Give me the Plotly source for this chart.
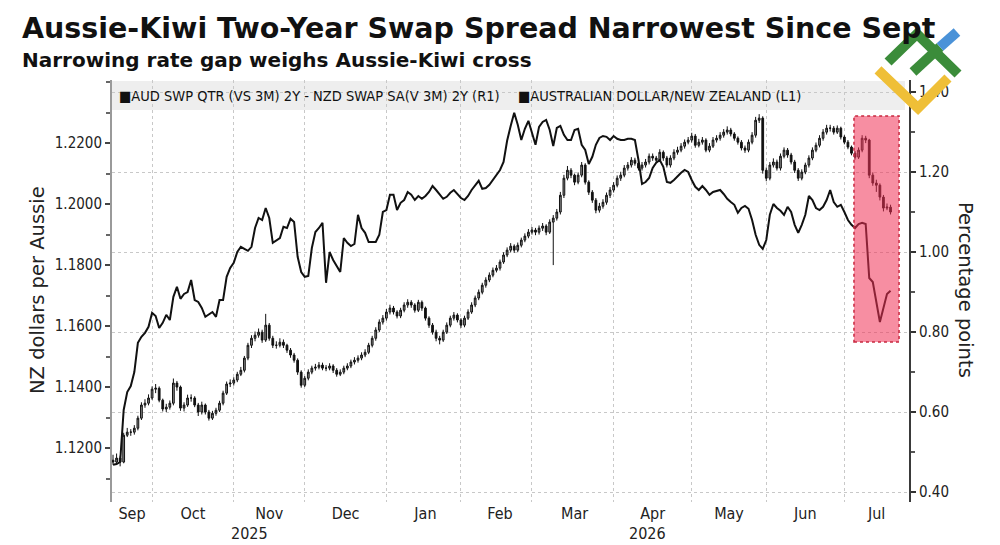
import numpy as np
import pandas as pd
import plotly.graph_objects as go

# ---------------- data ----------------
first_open = 1.1160
aud_close = [
    1.1154,1.1167,1.1154,1.1242,1.1252,1.1252,1.1265,1.1298,1.1341,1.1347,
    1.1364,1.1393,1.1396,1.1357,1.1328,1.1334,1.1347,1.1413,1.1400,1.1331,
    1.1341,1.1364,1.1364,1.1341,1.1318,1.1341,1.1318,1.1298,1.1314,1.1324,
    1.1347,1.1380,1.1410,1.1413,1.1423,1.1442,1.1455,1.1495,1.1537,1.1560,
    1.1570,1.1580,1.1554,1.1603,1.1560,1.1537,1.1537,1.1547,1.1537,1.1521,
    1.1505,1.1488,1.1449,1.1406,1.1429,1.1449,1.1462,1.1465,1.1472,1.1462,
    1.1462,1.1469,1.1455,1.1442,1.1449,1.1462,1.1469,1.1482,1.1488,1.1495,
    1.1505,1.1514,1.1537,1.1560,1.1587,1.1613,1.1626,1.1646,1.1659,1.1646,
    1.1633,1.1652,1.1669,1.1678,1.1669,1.1652,1.1678,1.1659,1.1626,1.1603,
    1.1580,1.1560,1.1554,1.1580,1.1603,1.1626,1.1636,1.1620,1.1603,1.1626,
    1.1646,1.1669,1.1692,1.1711,1.1734,1.1751,1.1767,1.1783,1.1790,1.1810,
    1.1833,1.1849,1.1862,1.1849,1.1865,1.1882,1.1895,1.1908,1.1915,1.1908,
    1.1921,1.1928,1.1908,1.1941,1.1954,1.1974,1.2029,1.2085,1.2111,1.2095,
    1.2072,1.2095,1.2128,1.2072,1.2039,1.2013,1.1980,1.1993,1.2006,1.2029,
    1.2046,1.2062,1.2085,1.2095,1.2118,1.2128,1.2144,1.2134,1.2118,1.2128,
    1.2138,1.2157,1.2151,1.2144,1.2170,1.2151,1.2128,1.2151,1.2170,1.2177,
    1.2190,1.2203,1.2210,1.2223,1.2193,1.2203,1.2210,1.2177,1.2190,1.2210,
    1.2216,1.2226,1.2236,1.2243,1.2230,1.2216,1.2203,1.2184,1.2177,1.2203,
    1.2226,1.2275,1.2282,1.2111,1.2085,1.2128,1.2138,1.2118,1.2157,1.2177,
    1.2161,1.2138,1.2111,1.2085,1.2105,1.2128,1.2151,1.2177,1.2193,1.2216,
    1.2236,1.2249,1.2249,1.2236,1.2249,1.2220,1.2203,1.2187,1.2167,1.2154,
    1.2177,1.2216,1.2210,1.2095,1.2069,1.2062,1.2023,1.1987,1.1990,1.1974,
]
aud_high = [
    1.1178,1.1182,1.1175,1.1250,1.1266,1.1262,1.1275,1.1306,1.1350,1.1360,
    1.1376,1.1402,1.1410,1.1402,1.1362,1.1345,1.1356,1.1428,1.1420,1.1405,
    1.1350,1.1375,1.1376,1.1370,1.1348,1.1352,1.1346,1.1325,1.1322,1.1332,
    1.1355,1.1388,1.1418,1.1425,1.1432,1.1450,1.1466,1.1502,1.1545,1.1570,
    1.1582,1.1592,1.1588,1.1640,1.1610,1.1568,1.1550,1.1560,1.1556,1.1542,
    1.1528,1.1512,1.1494,1.1455,1.1436,1.1458,1.1470,1.1476,1.1482,1.1480,
    1.1472,1.1478,1.1475,1.1462,1.1458,1.1470,1.1478,1.1490,1.1498,1.1504,
    1.1514,1.1524,1.1545,1.1568,1.1596,1.1622,1.1636,1.1656,1.1670,1.1666,
    1.1652,1.1660,1.1678,1.1688,1.1685,1.1675,1.1686,1.1684,1.1664,1.1632,
    1.1610,1.1588,1.1568,1.1588,1.1612,1.1634,1.1646,1.1642,1.1626,1.1634,
    1.1655,1.1678,1.1700,1.1720,1.1742,1.1760,1.1776,1.1792,1.1800,1.1818,
    1.1842,1.1858,1.1872,1.1868,1.1874,1.1890,1.1904,1.1918,1.1925,1.1922,
    1.1930,1.1938,1.1934,1.1950,1.1964,1.1984,1.2040,1.2096,1.2125,1.2118,
    1.2100,1.2104,1.2138,1.2134,1.2078,1.2046,1.2020,1.2004,1.2016,1.2038,
    1.2056,1.2072,1.2094,1.2106,1.2128,1.2138,1.2154,1.2152,1.2140,1.2138,
    1.2148,1.2166,1.2166,1.2158,1.2180,1.2176,1.2158,1.2160,1.2180,1.2188,
    1.2200,1.2212,1.2220,1.2234,1.2230,1.2214,1.2220,1.2216,1.2200,1.2220,
    1.2226,1.2236,1.2246,1.2255,1.2250,1.2236,1.2222,1.2210,1.2192,1.2212,
    1.2236,1.2286,1.2295,1.2288,1.2120,1.2138,1.2150,1.2146,1.2166,1.2186,
    1.2184,1.2168,1.2145,1.2118,1.2114,1.2136,1.2160,1.2186,1.2202,1.2226,
    1.2246,1.2260,1.2260,1.2256,1.2258,1.2254,1.2226,1.2210,1.2192,1.2174,
    1.2186,1.2226,1.2224,1.2214,1.2104,1.2080,1.2068,1.2030,1.2002,1.1998,
]
aud_low = [
    1.1145,1.1146,1.1140,1.1150,1.1236,1.1240,1.1244,1.1258,1.1292,1.1332,
    1.1340,1.1358,1.1380,1.1350,1.1320,1.1318,1.1326,1.1340,1.1388,1.1322,
    1.1320,1.1335,1.1352,1.1334,1.1305,1.1310,1.1310,1.1290,1.1292,1.1306,
    1.1318,1.1340,1.1374,1.1400,1.1405,1.1416,1.1436,1.1448,1.1488,1.1528,
    1.1550,1.1562,1.1545,1.1548,1.1552,1.1528,1.1526,1.1530,1.1528,1.1512,
    1.1496,1.1480,1.1440,1.1398,1.1400,1.1422,1.1442,1.1454,1.1458,1.1455,
    1.1452,1.1455,1.1446,1.1434,1.1436,1.1442,1.1455,1.1462,1.1474,1.1480,
    1.1488,1.1498,1.1508,1.1530,1.1552,1.1580,1.1605,1.1618,1.1638,1.1638,
    1.1625,1.1626,1.1645,1.1660,1.1660,1.1644,1.1646,1.1650,1.1618,1.1594,
    1.1572,1.1550,1.1540,1.1548,1.1574,1.1596,1.1618,1.1612,1.1594,1.1596,
    1.1620,1.1640,1.1662,1.1685,1.1704,1.1726,1.1744,1.1760,1.1776,1.1782,
    1.1804,1.1826,1.1842,1.1840,1.1842,1.1858,1.1875,1.1888,1.1900,1.1898,
    1.1900,1.1912,1.1898,1.1902,1.1800,1.1946,1.1966,1.2020,1.2078,1.2085,
    1.2062,1.2065,1.2088,1.2064,1.2030,1.2004,1.1970,1.1972,1.1985,1.1998,
    1.2020,1.2038,1.2055,1.2076,1.2088,1.2110,1.2120,1.2126,1.2110,1.2110,
    1.2120,1.2130,1.2142,1.2136,1.2138,1.2142,1.2120,1.2120,1.2144,1.2162,
    1.2170,1.2182,1.2196,1.2202,1.2185,1.2186,1.2195,1.2170,1.2170,1.2184,
    1.2202,1.2208,1.2218,1.2228,1.2222,1.2208,1.2195,1.2176,1.2168,1.2170,
    1.2196,1.2218,1.2266,1.2100,1.2075,1.2078,1.2120,1.2110,1.2110,1.2150,
    1.2152,1.2130,1.2102,1.2076,1.2078,1.2098,1.2120,1.2144,1.2170,1.2186,
    1.2208,1.2228,1.2238,1.2228,1.2230,1.2212,1.2196,1.2180,1.2160,1.2146,
    1.2148,1.2170,1.2200,1.2085,1.2060,1.2040,1.2012,1.1976,1.1980,1.1966,
]
spread = [
    0.468,0.470,0.475,0.605,0.650,0.665,0.700,0.773,0.788,0.798,
    0.813,0.848,0.840,0.810,0.823,0.843,0.830,0.888,0.913,0.883,
    0.895,0.900,0.930,0.880,0.875,0.860,0.838,0.845,0.850,0.838,
    0.880,0.880,0.938,0.960,0.973,1.000,1.013,1.008,1.003,1.013,
    1.060,1.085,1.080,1.110,1.085,1.023,1.030,1.035,1.063,1.060,
    1.083,1.075,0.988,0.950,0.938,0.940,1.010,1.050,1.060,1.073,
    0.923,1.000,0.980,0.965,0.950,1.035,1.023,1.015,1.020,1.093,
    1.060,1.048,1.025,1.025,1.025,1.043,1.100,1.105,1.143,1.143,
    1.105,1.123,1.130,1.150,1.143,1.130,1.140,1.133,1.140,1.150,
    1.165,1.155,1.143,1.133,1.138,1.148,1.155,1.145,1.135,1.130,
    1.140,1.155,1.168,1.178,1.158,1.160,1.168,1.180,1.193,1.205,
    1.225,1.278,1.315,1.348,1.318,1.280,1.308,1.328,1.298,1.268,
    1.313,1.325,1.330,1.305,1.265,1.310,1.315,1.293,1.280,1.280,
    1.305,1.308,1.268,1.255,1.220,1.238,1.268,1.285,1.290,1.288,
    1.280,1.290,1.283,1.280,1.280,1.283,1.283,1.280,1.230,1.170,
    1.175,1.185,1.210,1.223,1.230,1.213,1.175,1.173,1.180,1.190,
    1.198,1.205,1.200,1.180,1.163,1.155,1.165,1.155,1.143,1.150,
    1.153,1.155,1.145,1.133,1.125,1.118,1.098,1.110,1.115,1.108,
    1.080,1.043,1.018,1.008,1.030,1.093,1.120,1.110,1.103,1.093,
    1.113,1.100,1.068,1.048,1.068,1.093,1.140,1.130,1.110,1.105,
    1.113,1.130,1.155,1.125,1.113,1.118,1.100,1.080,1.068,1.060,
    1.070,1.073,1.070,0.935,0.925,0.875,0.825,0.860,0.895,0.903,
]
month_labels = ["Sep", "Oct", "Nov", "Dec", "Jan", "Feb", "Mar", "Apr", "May", "Jun", "Jul"]
year_labels = ["2025", "2026"]
left_ticks = [1.12, 1.14, 1.16, 1.18, 1.20, 1.22]
right_ticks = [0.40, 0.60, 0.80, 1.00, 1.20, 1.40]

title = "Aussie-Kiwi Two-Year Swap Spread Narrowest Since Sept"
subtitle = "Narrowing rate gap weighs Aussie-Kiwi cross"
legend_r1 = "\u25A0AUD SWP QTR (VS 3M) 2Y - NZD SWAP SA(V 3M) 2Y (R1)"
legend_l1 = "\u25A0AUSTRALIAN DOLLAR/NEW ZEALAND (L1)"

# ---------------- derived ----------------
dates = pd.bdate_range("2025-09-16", periods=len(aud_close))
aud_open = [first_open] + aud_close[:-1]

BD0 = np.datetime64("2025-09-16")


def to_pos(ts):
    ts = pd.Timestamp(ts)
    d = np.datetime64(ts.normalize().date())
    return float(np.busday_count(BD0, d)) + (ts - ts.normalize()).total_seconds() / 86400


def from_pos(p):
    n = int(np.floor(p))
    frac = p - n
    d = np.busday_offset(BD0, n, roll="forward")
    return pd.Timestamp(d) + pd.Timedelta(days=frac)


X_LO, X_HI = -0.29, 224.2
x_range = [from_pos(X_LO), from_pos(X_HI)]

month_starts = pd.date_range("2025-09-01", "2026-08-01", freq="MS")
tickvals = []
for a, b in zip(month_starts[:-1], month_starts[1:]):
    pa = max(to_pos(a), X_LO)
    pb = min(to_pos(b), X_HI)
    tickvals.append(from_pos((pa + pb) / 2))

p_year = to_pos("2026-01-01")
year_pos = [from_pos((X_LO + p_year) / 2), from_pos((p_year + X_HI) / 2)]

# plot area in pixels
L, R, T, B = 112, 909, 80, 502
W, H = 1000, 545


def PX(px):
    return (px - L) / (R - L)


def PY(py):
    return (B - py) / (B - T)


COND = "DejaVu Sans Condensed, DejaVu Sans"
TICKFONT = dict(family=COND, size=15, color="#222")

fig = go.Figure()
fig.add_trace(go.Candlestick(
    x=dates, open=aud_open, high=aud_high, low=aud_low, close=aud_close,
    increasing=dict(line=dict(color="#111", width=1), fillcolor="#8a8a8a"),
    decreasing=dict(line=dict(color="#111", width=1), fillcolor="#111111"),
    whiskerwidth=0, yaxis="y", showlegend=False, hoverinfo="skip",
))
fig.add_trace(go.Scatter(
    x=dates, y=spread, yaxis="y2", mode="lines",
    line=dict(color="#111", width=2), showlegend=False, hoverinfo="skip",
))

fig.update_layout(
    width=W, height=H,
    margin=dict(l=L, r=W - R, t=T, b=H - B),
    paper_bgcolor="white", plot_bgcolor="white",
    showlegend=False,
    xaxis=dict(
        type="date", range=x_range,
        rangebreaks=[dict(bounds=["sat", "mon"])],
        rangeslider=dict(visible=False),
        tickmode="array", tickvals=tickvals, ticktext=month_labels,
        showgrid=False, ticks="", showline=False, zeroline=False,
        tickfont=dict(family=COND, size=16, color="#222"),
        minor=dict(dtick="M1", tick0="2025-09-01", showgrid=True,
                   gridcolor="#c8c8c8", griddash="dot", gridwidth=1, ticks=""),
    ),
    yaxis=dict(
        range=[1.1023, 1.2407], tickmode="array", tickvals=left_ticks,
        ticktext=[f"{v:.4f}" for v in left_ticks],
        ticks="outside", ticklen=5, tickwidth=2, tickcolor="#444",
        showline=True, linecolor="#9a9a9a", linewidth=2,
        showgrid=False, zeroline=False, tickfont=TICKFONT,
        minor=dict(dtick=0.01, tick0=1.0, ticks="outside", ticklen=4, tickcolor="#666", showgrid=False),
    ),
    yaxis2=dict(
        overlaying="y", side="right", range=[0.375, 1.43],
        tickmode="array", tickvals=right_ticks,
        ticktext=[f"{v:.2f}" for v in right_ticks],
        ticks="outside", ticklen=5, tickwidth=2, tickcolor="#333",
        showline=True, linecolor="#3a3a3a", linewidth=2,
        showgrid=True, gridcolor="#c8c8c8", griddash="dot", gridwidth=1,
        zeroline=False, tickfont=TICKFONT,
        minor=dict(dtick=0.1, tick0=0.0, ticks="outside", ticklen=4, tickcolor="#555", showgrid=False),
    ),
)

shapes = []
# legend band
shapes.append(dict(type="rect", xref="paper", yref="paper",
                   x0=0, x1=PX(905), y0=PY(110), y1=PY(81),
                   fillcolor="#eeeeee", line=dict(width=0), layer="below"))
# highlight box
shapes.append(dict(type="rect", xref="x", yref="y2",
                   x0=from_pos(208.7), x1=from_pos(221.4), y0=0.775, y1=1.34,
                   fillcolor="rgba(240,50,85,0.55)",
                   line=dict(color="#c8283f", width=1.5, dash="dot"), layer="above"))


def path(pts):
    return "M " + " L ".join(f"{PX(x):.4f},{PY(y):.4f}" for x, y in pts)


logo = [
    ([(888, 62), (917, 34), (958, 74)], "#3b8c3a"),
    ([(913, 72), (940, 47)], "#3b8c3a"),
    ([(940, 47), (957, 32)], "#4a92d8"),
    ([(878, 70), (918, 108), (948, 78)], "#efbf37"),
]
for pts, col in logo:
    shapes.append(dict(type="path", xref="paper", yref="paper", path=path(pts),
                       line=dict(color=col, width=10), layer="above"))
fig.update_layout(shapes=shapes)

ann = []
ann.append(dict(xref="paper", yref="paper", x=PX(20), y=PY(28), xanchor="left", yanchor="middle",
                text=f"<b>{title}</b>", showarrow=False,
                font=dict(family="DejaVu Sans", size=28.5, color="#111")))
ann.append(dict(xref="paper", yref="paper", x=PX(20), y=PY(60), xanchor="left", yanchor="middle",
                text=f"<b>{subtitle}</b>", showarrow=False,
                font=dict(family="DejaVu Sans", size=20, color="#111")))
ann.append(dict(xref="paper", yref="paper", x=PX(117), y=PY(96), xanchor="left", yanchor="middle",
                text=legend_r1, showarrow=False,
                font=dict(family=COND, size=14.5, color="#111")))
ann.append(dict(xref="paper", yref="paper", x=PX(516), y=PY(96), xanchor="left", yanchor="middle",
                text=legend_l1, showarrow=False,
                font=dict(family=COND, size=14.5, color="#111")))
ann.append(dict(xref="paper", yref="paper", x=PX(37), y=PY(290), xanchor="center", yanchor="middle",
                text="NZ dollars per Aussie", textangle=-90, showarrow=False,
                font=dict(family="DejaVu Sans", size=19.5, color="#222")))
ann.append(dict(xref="paper", yref="paper", x=PX(966), y=PY(290), xanchor="center", yanchor="middle",
                text="Percentage points", textangle=90, showarrow=False,
                font=dict(family="DejaVu Sans", size=19.5, color="#222")))
for lab, pos in zip(year_labels, year_pos):
    ann.append(dict(xref="x", yref="paper", x=pos, y=PY(533), xanchor="center", yanchor="middle",
                    text=lab, showarrow=False,
                    font=dict(family=COND, size=16, color="#222")))
fig.update_layout(annotations=ann)

fig.write_html("out.html")
